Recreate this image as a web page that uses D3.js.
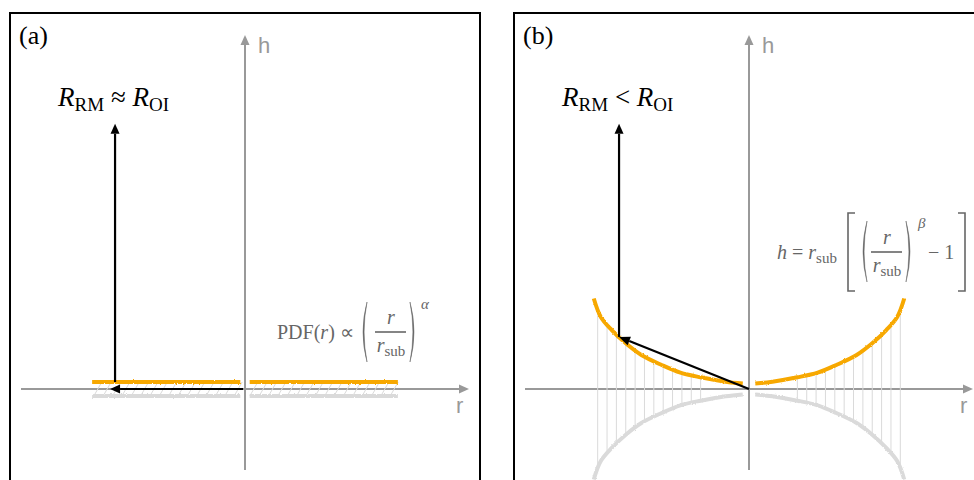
<!DOCTYPE html>
<html>
<head>
<meta charset="utf-8">
<script src="https://cdn.jsdelivr.net/npm/d3@7"></script>
<style>
  html, body { margin: 0; padding: 0; background: #fff; }
  svg { display: block; }
</style>
</head>
<body>
<script>
// surface profile h(r), r and h in units of the curve half-width
const curveR = [0.04, 0.15, 0.31, 0.44, 0.56, 0.69, 0.79, 0.88, 0.95, 0.995];
const curveH = [0.035, 0.047, 0.075, 0.105, 0.154, 0.218, 0.293, 0.378, 0.462, 0.58];
// flat surface of panel (a)
const flatR = [0.03, 0.98];
const flatH = 0.045;
// thin connector lines
const stemR = [0.31, 0.37, 0.43, 0.49, 0.55, 0.61, 0.67, 0.73, 0.79, 0.85, 0.91, 0.97];
const hatchR = [0.05, 0.11, 0.17, 0.23, 0.29, 0.35, 0.41, 0.47, 0.53, 0.59, 0.65, 0.71, 0.77, 0.83, 0.89, 0.95];
// reflected ray
const rayR = -0.833;
const rayTopH = 1.7;

const panels = [
  { id: "a", left: 10, origin: 245, relation: "\u2248" },
  { id: "b", left: 514, origin: 749, relation: "<" }
];

const W = 974, H = 480;
const axisY = 389, unit = 156;
const orange = "#f7a800", pale = "#dadada", axisCol = "#999", mathCol = "#666";
const serif = "'Liberation Serif', 'Times New Roman', serif";

const svg = d3.select("body").append("svg").attr("width", W).attr("height", H);
svg.append("rect").attr("width", W).attr("height", H).attr("fill", "#fff");

// rough edge for the sampled surfaces
const filt = svg.append("defs").append("filter").attr("id", "rough")
  .attr("filterUnits", "userSpaceOnUse")
  .attr("x", 0).attr("y", 0).attr("width", W).attr("height", H);
filt.append("feTurbulence").attr("type", "fractalNoise").attr("baseFrequency", 0.9)
  .attr("numOctaves", 2).attr("seed", 3).attr("result", "n");
filt.append("feDisplacementMap").attr("in", "SourceGraphic").attr("in2", "n")
  .attr("scale", 2.2).attr("xChannelSelector", "R").attr("yChannelSelector", "G");

const profile = r => {
  const a = Math.abs(r);
  const i = Math.max(1, Math.min(curveR.length - 1, d3.bisectLeft(curveR, a)));
  const t = (a - curveR[i - 1]) / (curveR[i] - curveR[i - 1]);
  return curveH[i - 1] + t * (curveH[i] - curveH[i - 1]);
};

function arrow(g, x1, y1, x2, y2, color, width, len, half) {
  const ang = Math.atan2(y2 - y1, x2 - x1);
  const bx = x2 - len * Math.cos(ang), by = y2 - len * Math.sin(ang);
  g.append("line").attr("x1", x1).attr("y1", y1).attr("x2", bx).attr("y2", by)
    .attr("stroke", color).attr("stroke-width", width);
  const px = -Math.sin(ang) * half, py = Math.cos(ang) * half;
  g.append("path")
    .attr("d", `M${x2},${y2}L${bx + px},${by + py}L${bx - px},${by - py}Z`)
    .attr("fill", color);
}

// tall round bracket, thicker in the middle
function paren(g, x, y1, y2, bulge) {
  const ym = (y1 + y2) / 2;
  g.append("path")
    .attr("d", `M${x},${y1}Q${x + bulge * 2},${ym} ${x},${y2}Q${x + bulge * 2 - Math.sign(bulge) * 2.2},${ym} ${x},${y1}Z`)
    .attr("fill", mathCol).attr("stroke", mathCol).attr("stroke-width", 0.5);
}

function fraction(g, cx, barY, x1, x2) {
  g.append("text").attr("x", cx).attr("y", barY - 8).attr("text-anchor", "middle")
    .attr("font-style", "italic").text("r");
  g.append("line").attr("x1", x1).attr("x2", x2).attr("y1", barY).attr("y2", barY)
    .attr("stroke", mathCol).attr("stroke-width", 1.6);
  const den = g.append("text").attr("x", cx).attr("y", barY + 20).attr("text-anchor", "middle");
  den.append("tspan").attr("font-style", "italic").text("r");
  den.append("tspan").attr("font-size", 15).attr("dy", 4).text("sub");
}

panels.forEach(p => {
  const g = svg.append("g");
  const x = d3.scaleLinear().domain([-1, 1]).range([p.origin - unit, p.origin + unit]);
  const y = d3.scaleLinear().domain([0, 1]).range([axisY, axisY - unit]);

  g.append("rect").attr("x", p.left).attr("y", 13).attr("width", 470).attr("height", 500)
    .attr("fill", "none").attr("stroke", "#000").attr("stroke-width", 2);

  // axes
  arrow(g, p.origin - 224, axisY, p.origin + 224, axisY, axisCol, 2, 10, 4.5);
  arrow(g, p.origin, 470, p.origin, 35, axisCol, 2, 10, 4.5);
  g.append("text").attr("x", p.origin + 13).attr("y", 53)
    .attr("font-family", "'Liberation Sans', Arial, sans-serif").attr("font-size", 22)
    .attr("fill", axisCol).text("h");
  g.append("text").attr("x", p.origin + 211).attr("y", 413)
    .attr("font-family", "'Liberation Sans', Arial, sans-serif").attr("font-size", 22)
    .attr("fill", axisCol).text("r");

  g.append("text").attr("x", p.origin - 226).attr("y", 44)
    .attr("font-family", serif).attr("font-size", 26).text(`(${p.id})`);

  const sides = [-1, 1];
  const line = d3.line().x(d => x(d[0])).y(d => y(d[1])).curve(d3.curveCatmullRom.alpha(0.5));

  if (p.id === "a") {
    hatchR.forEach(r => sides.forEach(s => {
      const r0 = s * r;
      g.append("line").attr("x1", x(r0) - 3).attr("y1", y(-flatH))
        .attr("x2", x(r0) + 5).attr("y2", y(flatH))
        .attr("stroke", pale).attr("stroke-width", 1);
    }));
    sides.forEach(s => {
      g.append("path").attr("d", line(flatR.map(r => [s * r, -flatH])))
        .attr("fill", "none").attr("stroke", pale).attr("stroke-width", 4).attr("filter", "url(#rough)");
      g.append("path").attr("d", line(flatR.map(r => [s * r, flatH])))
        .attr("fill", "none").attr("stroke", orange).attr("stroke-width", 4).attr("filter", "url(#rough)");
    });
    arrow(g, p.origin - 2, axisY, x(rayR) - 5, axisY, "#000", 2.2, 10, 4.5);
    arrow(g, x(rayR), y(flatH), x(rayR), y(rayTopH), "#000", 2.2, 10, 4.5);
  } else {
    stemR.forEach(r => sides.forEach(s => {
      const h = profile(r);
      g.append("line").attr("x1", x(s * r)).attr("x2", x(s * r))
        .attr("y1", y(h)).attr("y2", y(-h))
        .attr("stroke", pale).attr("stroke-width", 1);
    }));
    sides.forEach(s => {
      const pts = curveR.map((r, i) => [s * r, curveH[i]]);
      if (s < 0) pts.reverse();
      g.append("path").attr("d", line(pts.map(d => [d[0], -d[1]])))
        .attr("fill", "none").attr("stroke", pale).attr("stroke-width", 4).attr("filter", "url(#rough)");
      g.append("path").attr("d", line(pts))
        .attr("fill", "none").attr("stroke", orange).attr("stroke-width", 4).attr("filter", "url(#rough)");
    });
    const rayH = profile(rayR);
    arrow(g, p.origin, axisY, x(rayR), y(rayH), "#000", 2.2, 11, 4.5);
    arrow(g, x(rayR), y(rayH), x(rayR), y(rayTopH), "#000", 2.2, 10, 4.5);
  }

  // relation label
  const lab = g.append("text").attr("x", x(rayR) - 57).attr("y", 106)
    .attr("font-family", serif).attr("font-size", 27).attr("fill", "#000");
  lab.append("tspan").attr("font-style", "italic").text("R");
  lab.append("tspan").attr("font-size", 19).attr("dy", 5).text("RM");
  lab.append("tspan").attr("dy", -5).text(` ${p.relation} `);
  lab.append("tspan").attr("font-style", "italic").text("R");
  lab.append("tspan").attr("font-size", 19).attr("dy", 5).text("OI");

  // formula
  const f = g.append("g").attr("font-family", serif).attr("font-size", 20).attr("fill", mathCol);
  if (p.id === "a") {
    const t = f.append("text").attr("x", 277).attr("y", 339);
    t.append("tspan").text("PDF(");
    t.append("tspan").attr("font-style", "italic").text("r");
    t.append("tspan").text(") \u221d");
    paren(f, 367, 302, 362, -4);
    fraction(f, 391, 332, 375, 406);
    paren(f, 410, 302, 362, 4);
    f.append("text").attr("x", 421).attr("y", 309).attr("font-size", 15)
      .attr("font-style", "italic").text("\u03b1");
  } else {
    const t = f.append("text").attr("x", 777).attr("y", 259);
    t.append("tspan").attr("font-style", "italic").text("h");
    t.append("tspan").text(" = ");
    t.append("tspan").attr("font-style", "italic").text("r");
    t.append("tspan").attr("font-size", 15).attr("dy", 4).text("sub");
    f.append("path").attr("d", "M855,213H848V291H855").attr("fill", "none")
      .attr("stroke", mathCol).attr("stroke-width", 1.6);
    paren(f, 867, 221, 282, -4);
    fraction(f, 887, 252, 871, 902);
    paren(f, 906, 221, 282, 4);
    f.append("text").attr("x", 918).attr("y", 228).attr("font-size", 15)
      .attr("font-style", "italic").text("\u03b2");
    f.append("text").attr("x", 928).attr("y", 259).text("\u2212 1");
    f.append("path").attr("d", "M958,213H965V291H958").attr("fill", "none")
      .attr("stroke", mathCol).attr("stroke-width", 1.6);
  }
});
</script>
</body>
</html>
